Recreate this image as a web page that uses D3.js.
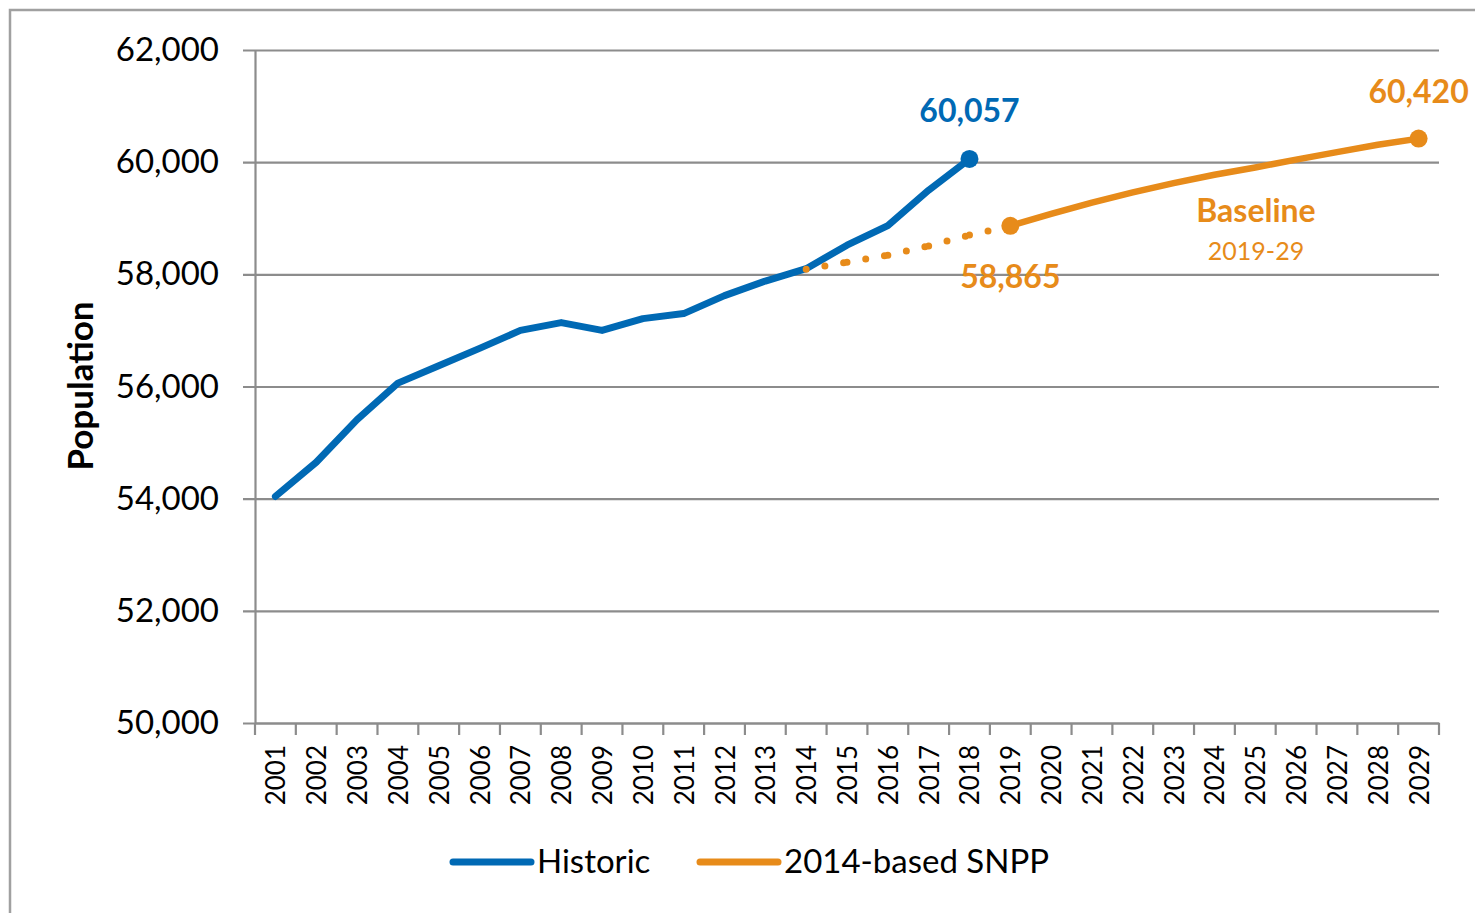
<!DOCTYPE html>
<html>
<head>
<meta charset="utf-8">
<script src="https://cdn.jsdelivr.net/npm/d3@7"></script>
<style>
  html, body { margin: 0; padding: 0; background: #fff; }
  svg { display: block; font-family: Lato, "Open Sans", sans-serif; }
</style>
</head>
<body>
<div class="chart"></div>
<script>
const width = 1475;
const height = 913;

const BLUE = '#0069b4';
const ORANGE = '#e78b1a';
const GRID = '#8c8c8c';

// data
const years = ['2001','2002','2003','2004','2005','2006','2007','2008','2009','2010',
    '2011','2012','2013','2014','2015','2016','2017','2018','2019','2020',
    '2021','2022','2023','2024','2025','2026','2027','2028','2029'];

const historicYears = years.slice(0, 18);
const historic = [54040, 54650, 55410, 56060, 56370, 56680, 57000, 57140, 57000, 57210,
    57300, 57620, 57880, 58100, 58520, 58870, 59500, 60057];

const projYears = ['2014','2015','2016','2017','2018','2019'];
const projected = [58090, 58215, 58340, 58505, 58700, 58865];

const baselineYears = ['2019','2020','2021','2022','2023','2024','2025','2026','2027','2028','2029'];
const baseline = [58865, 59080, 59280, 59460, 59625, 59775, 59905, 60045, 60180, 60310, 60420];

const yTicks = [50000, 52000, 54000, 56000, 58000, 60000, 62000];

const svg = d3.select('.chart')
    .append('svg')
    .attr('width', width)
    .attr('height', height)

// outer frame
svg.append('rect')
    .attr('x', 10)
    .attr('y', 10)
    .attr('width', width + 20)
    .attr('height', height + 20)
    .attr('fill', 'none')
    .attr('stroke', '#a0a0a0')
    .attr('stroke-width', 2.5)

const x = d3.scaleBand()
    .domain(years)
    .range([255, 1439])
    .padding(0)

const y = d3.scaleLinear()
    .domain([50000, 62000])
    .range([723, 50])

const cx = d => x(d) + x.bandwidth() / 2

// gridlines
const grid = svg.append('g')
    .attr('transform', 'translate(243,0)')
    .call(d3.axisRight(y).tickValues(yTicks).tickSize(1439 - 243).tickFormat(''))
grid.select('.domain').remove()
grid.selectAll('line').attr('stroke', GRID).attr('stroke-width', 2.2)

// y axis
const yAxis = svg.append('g')
    .attr('transform', 'translate(255,0)')
    .call(d3.axisLeft(y).tickValues(yTicks).tickSize(0).tickPadding(36).tickFormat(d3.format(',')))
yAxis.select('.domain').attr('stroke', GRID).attr('stroke-width', 2.2)
yAxis.selectAll('text')
    .attr('font-size', 33)
    .attr('fill', '#000')
    .attr('font-family', 'Lato, sans-serif')

// x axis
const xAxis = svg.append('g')
    .attr('transform', 'translate(0,723)')
    .call(d3.axisBottom(x).tickSize(0).tickPadding(0))
xAxis.select('.domain').attr('stroke', GRID).attr('stroke-width', 2.2)
xAxis.selectAll('text')
    .attr('font-size', 26)
    .attr('fill', '#000')
    .attr('font-family', 'Lato, sans-serif')
    .attr('text-anchor', 'end')
    .attr('transform', 'rotate(-90)')
    .attr('x', -22)
    .attr('y', 10)
    .attr('dy', 0)

// x tick marks at band edges
svg.append('g')
    .selectAll('line')
    .data(years.concat(['end']))
    .enter()
    .append('line')
    .attr('x1', d => d === 'end' ? x.range()[1] : x(d))
    .attr('x2', d => d === 'end' ? x.range()[1] : x(d))
    .attr('y1', 723)
    .attr('y2', 735)
    .attr('stroke', GRID)
    .attr('stroke-width', 2.2)

// y title
svg.append('text')
    .attr('transform', 'translate(93,386) rotate(-90)')
    .attr('text-anchor', 'middle')
    .attr('font-size', 35)
    .attr('font-weight', 'bold')
    .text('Population')

const line = d3.line()
    .x(d => cx(d[0]))
    .y(d => y(d[1]))

svg.append('path')
    .datum(baselineYears.map((d, i) => [d, baseline[i]]))
    .attr('d', line)
    .attr('fill', 'none')
    .attr('stroke', ORANGE)
    .attr('stroke-width', 6.5)
    .attr('stroke-linejoin', 'round')
    .attr('stroke-linecap', 'round')

svg.append('path')
    .datum(historicYears.map((d, i) => [d, historic[i]]))
    .attr('d', line)
    .attr('fill', 'none')
    .attr('stroke', BLUE)
    .attr('stroke-width', 7)
    .attr('stroke-linejoin', 'round')
    .attr('stroke-linecap', 'round')

// dotted projection, each segment restarts its dot pattern
const projPts = projYears.map((d, i) => [cx(d), y(projected[i])])
svg.append('g')
    .selectAll('line')
    .data(d3.pairs(projPts))
    .enter()
    .append('line')
    .attr('x1', d => d[0][0])
    .attr('y1', d => d[0][1])
    .attr('x2', d => d[1][0])
    .attr('y2', d => d[1][1])
    .attr('stroke', ORANGE)
    .attr('stroke-width', 7)
    .attr('stroke-linecap', 'round')
    .attr('stroke-dasharray', '0 19')

// markers
const markers = [
    {year: historicYears[historicYears.length - 1], value: historic[historic.length - 1], color: BLUE, dy: -37},
    {year: baselineYears[0], value: baseline[0], color: ORANGE, dy: 62},
    {year: baselineYears[baselineYears.length - 1], value: baseline[baseline.length - 1], color: ORANGE, dy: -36},
]

const mk = svg.append('g')
    .selectAll('g')
    .data(markers)
    .enter()
    .append('g')
    .attr('transform', d => `translate(${cx(d.year)},${y(d.value)})`)

mk.append('circle')
    .attr('r', 9)
    .attr('fill', d => d.color)

mk.append('text')
    .attr('text-anchor', 'middle')
    .attr('font-size', 32)
    .attr('font-weight', 'bold')
    .attr('fill', d => d.color)
    .attr('y', d => d.dy)
    .text(d => d3.format(',')(d.value))

// baseline annotation
svg.append('text')
    .attr('x', 1256)
    .attr('y', 222)
    .attr('text-anchor', 'middle')
    .attr('font-size', 32)
    .attr('font-weight', 'bold')
    .attr('fill', ORANGE)
    .text('Baseline')

svg.append('text')
    .attr('x', 1256)
    .attr('y', 260)
    .attr('text-anchor', 'middle')
    .attr('font-size', 25)
    .attr('fill', ORANGE)
    .text('2019-29')

// legend
const legendItems = [
    {label: 'Historic', color: BLUE, x: 453},
    {label: '2014-based SNPP', color: ORANGE, x: 700},
]

const lg = svg.append('g')
    .selectAll('g')
    .data(legendItems)
    .enter()
    .append('g')
    .attr('transform', d => `translate(${d.x},862)`)

lg.append('line')
    .attr('x1', 0)
    .attr('x2', 78)
    .attr('stroke', d => d.color)
    .attr('stroke-width', 7)
    .attr('stroke-linecap', 'round')

lg.append('text')
    .attr('x', 84)
    .attr('y', 11)
    .attr('font-size', 33)
    .text(d => d.label)
</script>
</body>
</html>
